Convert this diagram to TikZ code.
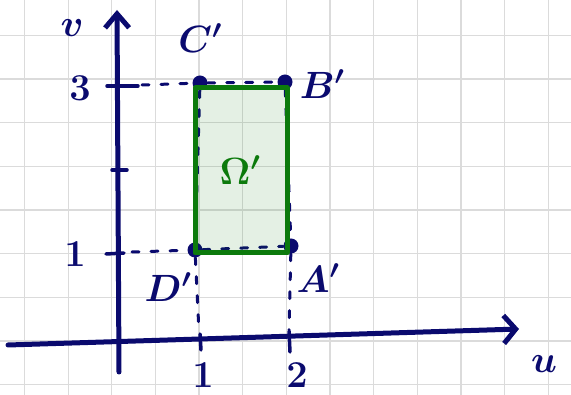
\RequirePackage{fix-cm}
\documentclass[tikz,border=0pt]{standalone}
\usepackage{amsmath,amssymb,bm}
\usepackage{tikz}
\usetikzlibrary{positioning,arrows.meta}
\definecolor{inkblue}{RGB}{10,10,110}
\definecolor{inkgreen}{RGB}{12,122,12}
\tikzset{
  gridln/.style={line width=1.3pt,black!14},
  axis/.style={line width=5pt,inkblue,line cap=round},
  tick/.style={line width=3.5pt,inkblue,line cap=round},
  proj/.style={line width=3pt,inkblue,dash pattern=on 7pt off 12pt,line cap=round},
  pt/.style={circle,fill=inkblue,inner sep=0pt,minimum size=15pt},
  region/.style={line width=5pt,draw=inkgreen,fill=inkgreen,fill opacity=0.11,line join=round},
  lab/.style={inkblue,inner sep=1pt,font=\fontsize{38}{40}\selectfont\boldmath},
}
\begin{document}
\begin{tikzpicture}[x=1pt,y=-1pt]
      \useasboundingbox (0,0) rectangle (571,395);
      \foreach \gx in {0,...,12} \draw[gridln] (24.5+43.65*\gx,0) -- (24.5+43.65*\gx,395);
      \foreach \gy in {0,...,8} \draw[gridln] (0,35.5+43.65*\gy) -- (571,35.5+43.65*\gy);
      \coordinate (uL) at (8,345); \coordinate (uR) at (519,329);
      \coordinate (vB) at (119,372); \coordinate (vT) at (117,10);
      \draw[axis,-{Straight Barb[length=12pt,width=28pt]}] (uL) -- (uR);
      \draw[axis,-{Straight Barb[length=14pt,width=24pt]}] (vB) -- (vT);
      \draw[tick] (107,86) -- (138,86); \draw[tick] (112,170) -- (127,170); \draw[tick] (106,254) -- (124,253);
      \draw[tick] (200,334) -- (201,350); \draw[tick] (289,331) -- (290,352);
      \node[pt] (C) at (200,83) {}; \node[pt] (B) at (285,82) {};
      \node[pt] (D) at (195,250) {}; \node[pt] (A) at (291,246) {};
      \coordinate (v3) at (142,85); \coordinate (v1) at (132,252);
      \coordinate (u1) at (199,332); \coordinate (u2) at (289,330);
      \draw[proj] (v3) -- (C); \draw[proj] (C) -- (B); \draw[proj] (v1) -- (D); \draw[proj] (D) -- (A);
      \draw[proj] (C) -- (D); \draw[proj] (B) -- (A); \draw[proj] (D) -- (u1); \draw[proj] (A) -- (u2);
      \draw[region] (195,88) rectangle (287,253);
      \node[lab] (Cl) at (200,38) {$C'$}; \node[lab] (Bl) at (322,84) {$B'$};
      \node[lab] (Dl) at (168,287) {$D'$}; \node[lab] (Al) at (318,278) {$A'$};
      \node[lab] (vl) at (72,28) {$v$}; \node[lab] (ul) at (544,364) {$u$};
      \node[lab] (n3) at (80,88) {$3$}; \node[lab] (n1) at (75,254) {$1$};
      \node[lab] (m1) at (203,375) {$1$}; \node[lab] (m2) at (297,375) {$2$};
      \node[lab,inkgreen] (om) at (240,170) {$\Omega'$};
    \end{tikzpicture}
\end{document}
